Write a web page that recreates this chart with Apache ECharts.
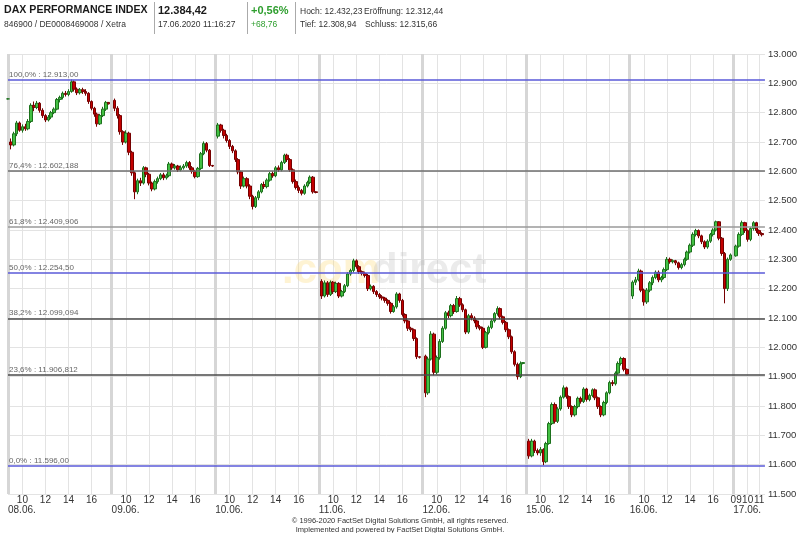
<!DOCTYPE html>
<html><head><meta charset="utf-8">
<script src="https://cdn.jsdelivr.net/npm/echarts@6/dist/echarts.min.js"></script>
<style>html,body{margin:0;padding:0;background:#fff}#c{width:800px;height:533px}</style>
</head><body><div id="c"></div>
<script>
// ---- data: 15-minute candles [open, close, low, high] per trading day ----
const dates = ['08.06.','09.06.','10.06.','11.06.','12.06.','15.06.','16.06.','17.06.'];
const firstSlot = [0,1,1,1,1,1,1,1];
const d0806 = [[12847,12847,12845,12849],[12700,12690,12675,12712],[12690,12728,12685,12735],[12728,12765,12720,12772],[12765,12740,12735,12770],[12740,12752,12732,12760],[12752,12745,12738,12762],[12745,12770,12740,12778],[12770,12825,12765,12832],[12825,12818,12805,12838],[12818,12832,12812,12840],[12832,12808,12800,12836],[12808,12790,12782,12815],[12790,12775,12768,12795],[12775,12785,12770,12792],[12785,12800,12778,12806],[12800,12812,12795,12818],[12812,12845,12808,12850],[12845,12852,12835,12858],[12852,12866,12845,12872],[12866,12862,12855,12874],[12862,12872,12856,12880],[12872,12905,12868,12913],[12905,12880,12872,12910],[12880,12868,12860,12886],[12868,12878,12862,12884],[12878,12872,12864,12885],[12872,12866,12858,12880],[12866,12838,12830,12870],[12838,12815,12808,12842],[12815,12795,12786,12820],[12795,12762,12752,12800],[12762,12790,12758,12796],[12790,12812,12785,12820],[12812,12835,12806,12840],[12835,12830,12828,12836]];
const d0906 = [[12842,12815,12805,12848],[12815,12790,12780,12822],[12790,12735,12725,12795],[12735,12700,12690,12740],[12700,12730,12695,12740],[12730,12665,12655,12735],[12665,12595,12585,12670],[12595,12530,12505,12600],[12530,12568,12522,12575],[12568,12560,12550,12578],[12560,12612,12555,12618],[12612,12590,12580,12616],[12590,12560,12552,12595],[12560,12540,12532,12565],[12540,12565,12535,12572],[12565,12575,12558,12582],[12575,12588,12570,12594],[12588,12578,12570,12595],[12578,12585,12572,12592],[12585,12625,12580,12632],[12625,12612,12605,12630],[12612,12618,12606,12625],[12618,12605,12598,12622],[12605,12612,12600,12620],[12612,12618,12606,12625],[12618,12630,12612,12636],[12630,12612,12605,12635],[12612,12600,12592,12618],[12600,12582,12576,12605],[12582,12610,12578,12615],[12610,12660,12605,12666],[12660,12695,12655,12702],[12695,12672,12665,12700],[12672,12620,12615,12676],[12620,12618,12615,12622]];
const d1006 = [[12720,12758,12712,12765],[12758,12740,12732,12762],[12740,12722,12712,12745],[12722,12705,12698,12728],[12705,12685,12676,12710],[12685,12670,12662,12690],[12670,12640,12632,12675],[12640,12598,12590,12645],[12598,12550,12540,12602],[12550,12575,12545,12582],[12575,12550,12542,12580],[12550,12515,12505,12556],[12515,12480,12470,12520],[12480,12510,12475,12516],[12510,12530,12502,12536],[12530,12555,12525,12560],[12555,12548,12540,12565],[12548,12570,12542,12576],[12570,12592,12565,12598],[12592,12585,12578,12600],[12585,12612,12580,12618],[12612,12605,12598,12620],[12605,12630,12600,12636],[12630,12655,12625,12660],[12655,12640,12632,12660],[12640,12605,12598,12645],[12605,12565,12558,12610],[12565,12545,12538,12572],[12545,12535,12526,12552],[12535,12525,12518,12540],[12525,12550,12520,12556],[12550,12562,12545,12568],[12562,12580,12556,12586],[12580,12530,12524,12584],[12530,12528,12525,12532]];
const d1106 = [[12225,12175,12165,12232],[12175,12220,12170,12228],[12220,12180,12172,12226],[12180,12222,12175,12228],[12222,12190,12182,12226],[12190,12218,12185,12224],[12218,12175,12168,12222],[12175,12190,12170,12196],[12190,12210,12185,12216],[12210,12250,12205,12256],[12250,12262,12244,12268],[12262,12295,12255,12302],[12295,12275,12268,12300],[12275,12258,12250,12280],[12258,12252,12245,12262],[12252,12245,12238,12258],[12245,12200,12192,12250],[12200,12208,12194,12214],[12208,12190,12182,12212],[12190,12180,12172,12195],[12180,12172,12165,12185],[12172,12168,12160,12178],[12168,12160,12152,12172],[12160,12150,12142,12164],[12150,12122,12115,12155],[12122,12138,12118,12144],[12138,12182,12132,12188],[12182,12160,12152,12186],[12160,12112,12105,12165],[12112,12090,12082,12116],[12090,12065,12056,12094],[12065,12060,12052,12070],[12060,12030,12022,12064],[12030,11968,11960,12034],[11968,11966,11962,11970]];
const d1206 = [[11970,11845,11830,11975],[11845,11960,11838,11968],[11960,12045,11955,12055],[12045,11915,11905,12050],[11915,11965,11908,11972],[11965,12020,11958,12028],[12020,12065,12015,12072],[12065,12118,12060,12124],[12118,12108,12100,12125],[12108,12142,12102,12148],[12142,12122,12114,12148],[12122,12166,12118,12175],[12166,12145,12138,12172],[12145,12128,12120,12150],[12128,12052,12045,12132],[12052,12108,12046,12114],[12108,12100,12092,12116],[12100,12090,12082,12106],[12090,12070,12062,12094],[12070,12065,12058,12076],[12065,12000,11994,12070],[12000,12050,11996,12056],[12050,12068,12044,12074],[12068,12090,12062,12096],[12090,12115,12084,12120],[12115,12132,12108,12140],[12132,12104,12096,12136],[12104,12085,12078,12108],[12085,12060,12052,12090],[12060,12036,12028,12064],[12036,11985,11978,12040],[11985,11942,11935,11990],[11942,11900,11890,11948],[11900,11945,11895,11952],[11945,11948,11942,11950]];
const d1506 = [[11680,11630,11620,11688],[11630,11680,11625,11688],[11680,11648,11640,11685],[11648,11640,11632,11655],[11640,11652,11630,11660],[11652,11610,11598,11656],[11610,11672,11605,11678],[11672,11740,11668,11746],[11740,11805,11735,11812],[11805,11748,11740,11812],[11748,11790,11742,11796],[11790,11830,11784,11836],[11830,11862,11825,11870],[11862,11832,11825,11866],[11832,11798,11790,11836],[11798,11770,11762,11802],[11770,11798,11764,11804],[11798,11826,11792,11832],[11826,11815,11808,11832],[11815,11858,11810,11864],[11858,11822,11815,11862],[11822,11836,11816,11842],[11836,11855,11830,11860],[11855,11828,11820,11860],[11828,11798,11790,11832],[11798,11770,11762,11802],[11770,11812,11765,11818],[11812,11845,11806,11850],[11845,11880,11840,11886],[11880,11876,11868,11888],[11876,11912,11870,11918],[11912,11945,11906,11952],[11945,11962,11938,11968],[11962,11925,11918,11966],[11925,11908,11905,11928]];
const d1606 = [[12175,12222,12165,12228],[12222,12230,12212,12240],[12230,12260,12225,12268],[12260,12195,12188,12265],[12195,12155,12142,12200],[12155,12195,12148,12202],[12195,12220,12188,12226],[12220,12238,12212,12245],[12238,12256,12232,12262],[12256,12230,12222,12262],[12230,12238,12222,12244],[12238,12265,12232,12272],[12265,12300,12260,12308],[12300,12292,12285,12306],[12292,12295,12286,12300],[12295,12288,12280,12298],[12288,12272,12265,12292],[12272,12282,12266,12288],[12282,12300,12276,12306],[12300,12325,12295,12330],[12325,12348,12320,12354],[12348,12385,12342,12392],[12385,12398,12378,12404],[12398,12380,12372,12402],[12380,12360,12352,12384],[12360,12342,12335,12365],[12342,12362,12336,12368],[12362,12385,12356,12390],[12385,12400,12378,12406],[12400,12428,12395,12432],[12428,12372,12365,12430],[12372,12320,12312,12376],[12320,12200,12150,12325],[12200,12300,12192,12306],[12300,12315,12295,12320]];
const d1706 = [[12312,12345,12309,12350],[12345,12385,12340,12392],[12385,12425,12380,12432],[12425,12398,12390,12428],[12398,12368,12360,12402],[12368,12405,12362,12410],[12405,12425,12398,12430],[12425,12398,12390,12428],[12398,12388,12380,12402],[12388,12384,12378,12392]];
const days = [d0806,d0906,d1006,d1106,d1206,d1506,d1606,d1706];

// Fibonacci retracement levels
const fibLevels = [12913.00, 12602.188, 12409.906, 12254.50, 12099.094, 11906.812, 11596.00];
const fibTexts = ['100,0% : 12.913,00','76,4% : 12.602,188','61,8% : 12.409,906','50,0% : 12.254,50','38,2% : 12.099,094','23,6% : 11.906,812','0,0% : 11.596,00'];
const fibColors = ['#5a5ad8','#6e6e6e','#9a9a9a','#5a5ad8','#4a4a4a','#4a4a4a','#5a5ad8'];

// tick labels (slot index within a day, 15-minute slots from 08:45)
const hourSlots = [5,13,21,29];
const hourTexts = ['10','12','14','16'];
const lastDaySlots = [1,5,9];
const lastDayTexts = ['09','10','11'];
const SLOTS = 36, TOTAL = 264;

// ---- build ----
const cats = [];
for (let i = 0; i < TOTAL; i++) {
  const d = Math.floor(i / SLOTS), k = i % SLOTS, m = 8*60+45+15*k;
  cats.push(dates[d] + ' ' + String(Math.floor(m/60)).padStart(2,'0') + ':' + String(m%60).padStart(2,'0'));
}
const candles = [];
days.forEach((arr, d) => arr.forEach((c, j) => candles.push([d*SLOTS + firstSlot[d] + j, c[0], c[1], c[2], c[3]])));

function hourLabel(i) {
  const d = Math.floor(i / SLOTS), k = i % SLOTS;
  if (d === dates.length - 1) { const p = lastDaySlots.indexOf(k); return p >= 0 ? lastDayTexts[p] : null; }
  const p = hourSlots.indexOf(k); return p >= 0 ? hourTexts[p] : null;
}
function hourLine(i) {
  const d = Math.floor(i / SLOTS), k = i % SLOTS;
  if (d === dates.length - 1) return k === 5 || k === 9;
  return hourSlots.indexOf(k) >= 0;
}
const FONT = 'Liberation Sans, Arial, sans-serif';
const chart = echarts.init(document.getElementById('c'));
chart.setOption({
  animation: false,
  backgroundColor: '#ffffff',
  grid: { left: 8, right: 30, top: 54, bottom: 39, containLabel: false },
  xAxis: [{
    type: 'category', data: cats, boundaryGap: false,
    axisLine: { show: false }, axisTick: { show: false },
    axisLabel: { interval: (i) => hourLabel(i) !== null, formatter: (v, i) => hourLabel(i) || '',
      fontSize: 10, color: '#333', fontFamily: FONT, margin: 1 },
    splitLine: { show: true, interval: (i) => hourLine(i), lineStyle: { color: '#e3e3e3', width: 1 } }
  }, {
    type: 'category', data: cats, boundaryGap: false, position: 'bottom',
    axisLine: { show: false }, axisTick: { show: false },
    axisLabel: { interval: (i) => i % SLOTS === 0, formatter: (v, i) => dates[Math.floor(i / SLOTS)],
      align: 'left', fontSize: 10, color: '#333', fontFamily: FONT, margin: 11 },
    splitLine: { show: true, interval: (i) => i % SLOTS === 0, lineStyle: { color: '#d6d6d6', width: 3 } }
  }],
  yAxis: {
    type: 'value', position: 'right', min: 11500, max: 13000, interval: 100,
    axisLine: { show: false }, axisTick: { show: false },
    axisLabel: { formatter: (v) => String(v).replace(/\B(?=(\d{3})+(?!\d))/g, '.'),
      fontSize: 9.5, color: '#333', fontFamily: FONT, margin: 3 },
    splitLine: { lineStyle: { color: '#e3e3e3', width: 1 } }
  },
  graphic: [
    { type: 'text', left: 282, top: 250, z: 1, style: { text: '.com', font: 'bold 42px ' + FONT, fill: 'rgba(252,215,110,0.3)' } },
    { type: 'text', left: 372, top: 250, z: 1, style: { text: 'direct', font: 'bold 42px ' + FONT, fill: 'rgba(190,190,190,0.3)' } },
    { type: 'text', left: 4, top: 5, style: { text: 'DAX PERFORMANCE INDEX', font: 'bold 10.6px ' + FONT, fill: '#1a1a1a' } },
    { type: 'text', left: 4, top: 20, style: { text: '846900 / DE0008469008 / Xetra', font: '8.5px ' + FONT, fill: '#333' } },
    { type: 'line', shape: { x1: 154.5, y1: 2, x2: 154.5, y2: 34 }, style: { stroke: '#aaa', lineWidth: 1 } },
    { type: 'text', left: 158, top: 5, style: { text: '12.384,42', font: 'bold 11px ' + FONT, fill: '#1a1a1a' } },
    { type: 'text', left: 158, top: 20, style: { text: '17.06.2020 11:16:27', font: '8.5px ' + FONT, fill: '#333' } },
    { type: 'line', shape: { x1: 247.5, y1: 2, x2: 247.5, y2: 34 }, style: { stroke: '#aaa', lineWidth: 1 } },
    { type: 'text', left: 251, top: 5, style: { text: '+0,56%', font: 'bold 11px ' + FONT, fill: '#2e9e2e' } },
    { type: 'text', left: 251, top: 20, style: { text: '+68,76', font: '8.5px ' + FONT, fill: '#2e9e2e' } },
    { type: 'line', shape: { x1: 295.5, y1: 2, x2: 295.5, y2: 34 }, style: { stroke: '#aaa', lineWidth: 1 } },
    { type: 'text', left: 300, top: 7, style: { text: 'Hoch: 12.432,23', font: '8.5px ' + FONT, fill: '#333' } },
    { type: 'text', left: 364, top: 7, style: { text: 'Eröffnung: 12.312,44', font: '8.5px ' + FONT, fill: '#333' } },
    { type: 'text', left: 300, top: 20, style: { text: 'Tief: 12.308,94', font: '8.5px ' + FONT, fill: '#333' } },
    { type: 'text', left: 365, top: 20, style: { text: 'Schluss: 12.315,66', font: '8.5px ' + FONT, fill: '#333' } },
    { type: 'text', left: 'center', top: 517, style: { text: '© 1996-2020 FactSet Digital Solutions GmbH, all rights reserved.', font: '7.5px ' + FONT, fill: '#333' } },
    { type: 'text', left: 'center', top: 526, style: { text: 'Implemented and powered by FactSet Digital Solutions GmbH.', font: '7.5px ' + FONT, fill: '#333' } }
  ],
  series: [{
    type: 'candlestick', xAxisIndex: 0, data: candles, encode: { x: 0, y: [1,2,3,4] },
    barWidth: 3,
    itemStyle: { color: '#43c043', color0: '#c40000', borderColor: '#1c701c', borderColor0: '#760000', borderWidth: 1 },
    markLine: {
      silent: true, symbol: 'none', animation: false,
      data: fibLevels.map((v, i) => ({
        yAxis: v,
        lineStyle: { color: fibColors[i], width: 1.5, type: 'solid' },
        label: { show: true, position: 'insideStartTop', formatter: fibTexts[i], fontSize: 8, color: '#666', fontFamily: FONT, distance: [1, 1] }
      }))
    }
  }]
});
</script>
</body></html>
